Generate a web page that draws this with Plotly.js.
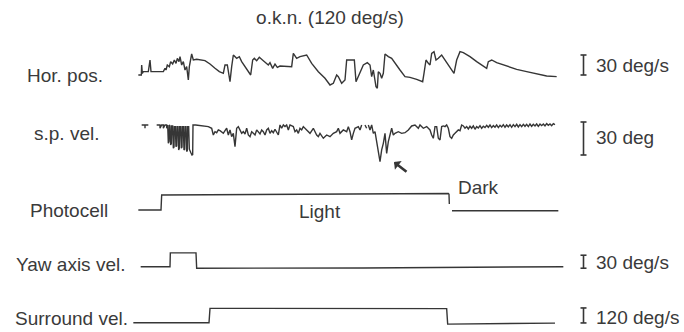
<!DOCTYPE html>
<html>
<head>
<meta charset="utf-8">
<script src="https://cdn.plot.ly/plotly-3.0.1.min.js"></script>
<style>html,body{margin:0;padding:0;background:#fff;}#chart{width:684px;height:332px;}</style>
</head>
<body>
<div id="chart"></div>
<script>
// Time axis in recording frames (30 frames per second)
const horT = [25,34,35,37,40,55,60,63,70,100,105,108,112,118,122,128,133,138,142,147,150,155,160,165,170,175,178,185,190,200,225,240,255,268,280,285,292,297,300,305,310,320,328,335,345,355,362,368,373,380,388,400,415,420,428,435,442,450,485,490,500,510,530,545,565,585,600,610,620,625,635,645,650,665,673,678,682,690,700,712,720,725,730,738,742,745,750,755,760,765,775,785,795,810,825,840,860,878,882,888,895,900,905,912,918,925,935,945,955,965,972,980,990,1000,1020,1040,1060,1070,1075,1085,1100,1130,1160,1190,1220,1250,1280];
// Horizontal eye position (deg)
const horV = [0,0,15,2.5,5,5,22.5,5,5,5,10,7.5,15,12.5,20,16.5,22.5,17.5,25,20,27.5,15,20,7.5,12.5,-7.5,12.5,31.5,22.5,23.5,21.5,16.5,10,5,2.5,15,15,0,-10,12.5,30,25,27.5,20,12.5,5,0,22.5,25,21.5,26.5,21.5,15,18.5,10,16.5,11.5,13.5,12.5,32.5,25,27.5,30,17.5,5,-5,-15,-12.5,0,-2.5,-12.5,-7.5,22.5,22.5,22.5,-10,-5,5,15,18.5,15,-2.5,7.5,-17.5,-20,5,2.5,-5,2.5,31.5,27.5,25,17.5,7.5,-2.5,-3.5,-6.5,-10,2.5,22.5,17.5,15,32.5,35,22.5,25,30,22.5,15,7.5,2.5,22.5,35,33.5,27.5,20,12.5,10,20,22.5,18.5,13.5,8.5,5,1.5,-1.5,-2.5];

// Slow-phase eye velocity (deg/s): [frame, value]
const spSamples = [
 [35,0],[45,0],[45,-3.0],[45,0],[55,0],[58,null],
 [80,0],[90,0],[90,-3.0],[95,0],[100,0],[100,-3.0],[105,0],[110,0],[110,-3.0],[113,0],
 [115,-16.7],[117,-15],[118,0],[120,-1],[122,-18.2],[124,-17],[125,-1],[128,-1],[130,-21.2],[132,-20],[133,-1.5],
 [136,-1.5],[138,-19.7],[140,-19],[141,-1.5],[144,-1.5],[146,-22.7],[148,-21],[149,-1.5],[152,-1.5],[154,-21.2],
 [156,-20],[157,-1.5],[160,-1.5],[162,-22.7],[164,-22],[165,-1.5],[168,-1.5],[170,-24.2],[172,-23],[173,-1.5],
 [176,-1.5],[178,-22],[180,-24],[183,-25.5],[186,-27.3],[188,-27],[189,0],[197,0],
 [235,-1.5],[245,-3.0],[250,-9.1],[255,-6.1],[260,-7.0],[265,-4.5],[270,-5.2],[275,-6.1],[280,-7.6],[285,-5.2],
 [290,-3.0],[295,-9.1],[300,-4.5],[305,-10.6],[310,-7.6],[315,-19.7],[320,-3.0],[325,-1.5],[330,-4.5],[335,-7.6],
 [340,-6.1],[345,-8.2],[350,-3.0],[355,-9.1],[360,-10.6],[365,-6.1],[370,-7.6],[375,-9.1],[380,-4.5],[385,-6.1],
 [390,-8.2],[395,-4.5],[400,-6.1],[405,-9.1],[410,-4.5],[415,-3.0],[420,-7.6],[425,-5.2],[430,-7.0],[435,-3.9],
 [440,-6.1],[445,-9.1],[450,0],[455,-3.0],[460,0],[465,-1.5],[470,0],[475,-4.5],[480,0],[490,-1.5],[495,-6.1],
 [500,-4.5],[505,-7.6],[510,-3.0],[515,-4.5],[520,-1.5],[530,-4.5],[540,-7.6],[550,-3.0],[560,-9.1],[565,-10.6],
 [570,-7.6],[580,-12.1],[590,-9.1],[600,-10.6],[610,-7.6],[620,-6.1],[625,-3.0],[630,-7.6],[640,-4.5],[650,-6.1],
 [655,-1.5],[660,-6.1],[665,-13.6],[670,-7.6],[675,-3.0],[685,-1.5],[690,-4.5],[695,0],[700,null],[705,0],
 [710,-3.0],[712,null],[715,0],[720,-4.5],[725,0],[730,-7.6],[735,-6.1],[740,-15.2],[745,-24.2],[750,-33.3],
 [755,-22.7],[760,-16.7],[765,-7.6],[770,-25.8],[775,-15.2],[780,-7.6],[785,-3.0],[790,-9.1],[795,-7.6],[805,-6.1],
 [815,-7.6],[825,-7.0],[835,-4.5],[845,-0.9],[855,0],[865,-3.0],[870,0],[880,-3.0],[890,-1.5],[895,-3.0],
 [900,-4.5],[905,-9.1],[910,-12.1],[915,-1.5],[920,-1.5],[925,-12.1],[930,-13.6],[935,-1.5],[940,-0.9],[945,-1.5],
 [950,0],[955,-3.0],[960,-10.6],[965,-12.1],[970,-9.1],[975,-7.6],[980,-6.1],[985,-4.5],[990,-5.2],[995,0],
 [1000,-0.9],[1005,-3.0],[1010,-1.5],[1015,-3.6],[1020,-1.2],[1025,-3.0],[1030,-0.9],[1035,-3.9],[1040,-1.5],
 [1045,-2.7],[1050,-0.6],[1055,-3.0],[1060,-1.2],[1065,-2.4],[1070,-0.3],[1075,-2.1],[1080,0],[1085,-2.4],
 [1090,-0.6],[1095,-2.1],[1100,0],[1105,-2.4],[1110,-0.3],[1115,-1.8],[1120,0.3],[1125,-2.1],[1130,0],[1135,-1.8],
 [1140,0.3],[1145,-2.1],[1150,0.3],[1155,-1.5],[1160,0.6],[1165,-1.8],[1170,0.3],[1175,-1.5],[1180,0.6],[1185,-1.2],
 [1190,0.6],[1195,-1.5],[1200,0.9],[1205,-1.2],[1210,0.6],[1215,-0.9],[1220,0.9],[1225,-1.2],[1230,0.9],[1235,-0.6],
 [1240,0.9],[1245,-0.9],[1250,1.2],[1255,-0.3],[1260,0.9],[1265,-0.6],[1270,1.2],[1275,0.3]
];

// Photocell (0 = dark, 1 = light)
const photoT = [25,93,95,955,957,958,959,966,1285];
const photoV = [0,0,1.0,1.1,1.05,0.4,null,-0.05,-0.05];

// Yaw axis velocity (deg/s)
const yawT = [32,120,121,198,200,700,1300];
const yawV = [0,0,32,32,-3.5,-3,0];

// Surround velocity (deg/s)
const surT = [10,237,240,950,953,1275];
const surV = [0,0,115,113,-11,-3];

const rowLabels = ["Hor. pos.","s.p. vel.","Photocell","Yaw axis vel.","Surround vel."];
const scaleLabels = ["30 deg/s","30 deg","30 deg/s","120 deg/s"];
const stateLabels = ["Light","Dark"];
const titleText = "o.k.n. (120 deg/s)";

const ink = "#363636";
const txt = "#3a3a3a";
const fnt = {family: "Liberation Sans, Arial, sans-serif", size: 19, color: txt};

function tr(x, y, ya) {
  return {x: x, y: y, yaxis: ya, xaxis: "x", type: "scatter", mode: "lines",
          line: {color: ink, width: 1.4}, connectgaps: false, hoverinfo: "skip", showlegend: false};
}
const data = [
  tr(horT, horV, "y"),
  tr(spSamples.map(p => p[0]), spSamples.map(p => p[1]), "y2"),
  tr(photoT, photoV, "y3"),
  tr(yawT, yawV, "y4"),
  tr(surT, surV, "y5")
];

function ya(r, extra) {
  return Object.assign({domain: [0, 1], range: r, visible: false, fixedrange: true}, extra || {});
}
const py = p => 1 - p / 332;
const pxf = p => p / 684;

const rowY = [76, 133, 210, 264, 318];
const rowX = [65, 66, 69, 70, 71];
const annotations = rowLabels.map((t, i) => ({
  text: t, xref: "paper", yref: "paper", x: pxf(rowX[i]), y: py(rowY[i]),
  xanchor: "center", yanchor: "middle", showarrow: false, font: fnt
}));
const scaleY = [65, 137, 262, 317];
scaleLabels.forEach((t, i) => annotations.push({
  text: t, xref: "paper", yref: "paper", x: pxf(594), y: py(scaleY[i]),
  xanchor: "left", yanchor: "middle", showarrow: false, font: fnt
}));
annotations.push({text: stateLabels[0], xref: "paper", yref: "paper", x: pxf(320), y: py(212),
  xanchor: "center", yanchor: "middle", showarrow: false, font: fnt});
annotations.push({text: stateLabels[1], xref: "paper", yref: "paper", x: pxf(478), y: py(187),
  xanchor: "center", yanchor: "middle", showarrow: false, font: fnt});
annotations.push({text: "", xref: "paper", yref: "paper", x: pxf(394), y: py(162),
  ax: 14, ay: 11, showarrow: true, arrowhead: 1, arrowsize: 0.7, arrowwidth: 2.6, arrowcolor: ink});

// scale bars (in each trace's own units)
const bars = [["y", 0, 30], ["y2", -27.3, 2.7], ["y4", -3.5, 26.5], ["y5", -2, 118]];
const shapes = [];
bars.forEach(b => {
  const xm = pxf(583.5), xl = pxf(580.5), xr = pxf(586.5);
  const st = {color: ink, width: 1.6};
  shapes.push({type: "line", xref: "paper", yref: b[0], x0: xm, x1: xm, y0: b[1], y1: b[2], line: st});
  shapes.push({type: "line", xref: "paper", yref: b[0], x0: xl, x1: xr, y0: b[1], y1: b[1], line: st});
  shapes.push({type: "line", xref: "paper", yref: b[0], x0: xl, x1: xr, y0: b[2], y1: b[2], line: st});
});

const layout = {
  width: 684, height: 332,
  margin: {l: 0, r: 0, t: 0, b: 0, pad: 0},
  paper_bgcolor: "#ffffff", plot_bgcolor: "#ffffff",
  title: {text: titleText, font: fnt, x: pxf(330), xanchor: "center", y: py(17), yanchor: "middle", xref: "paper", yref: "paper"},
  xaxis: {domain: [0, 1], range: [-390, 1662], visible: false, fixedrange: true},
  yaxis: ya([-385.5, 112.5]),
  yaxis2: ya([-188.2, 113.6], {overlaying: "y"}),
  yaxis3: ya([-8.133, 14], {overlaying: "y"}),
  yaxis4: ya([-150.7, 615.5], {overlaying: "y"}),
  yaxis5: ya([-74.4, 2581.6], {overlaying: "y"}),
  annotations: annotations,
  shapes: shapes,
  showlegend: false
};

Plotly.newPlot("chart", data, layout, {displayModeBar: false, staticPlot: true});
</script>
</body>
</html>
